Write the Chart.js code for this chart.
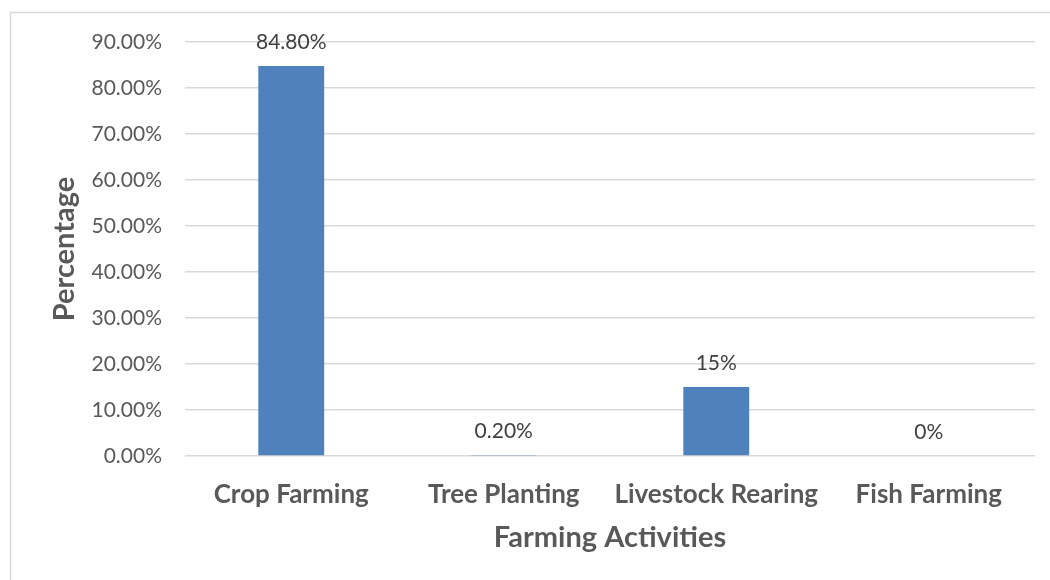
<!DOCTYPE html>
<html>
<head>
<meta charset="utf-8">
<script src="https://cdn.jsdelivr.net/npm/chart.js@4/dist/chart.umd.min.js"></script>
<style>
  html, body { margin: 0; padding: 0; background: #fff; }
  #wrap { width: 1050px; height: 580px; position: relative; }
</style>
</head>
<body>
<div id="wrap"><canvas id="myChart" width="1050" height="580"></canvas></div>
<script>
'use strict';
let activities = ['Crop Farming', 'Tree Planting', 'Livestock Rearing', 'Fish Farming'];
let percentages = [84.8, 0.2, 15, 0];
let valueLabels = ['84.80%', '0.20%', '15%', '0%'];
let yTicks = [0, 10, 20, 30, 40, 50, 60, 70, 80, 90];

let fontFamily = 'Lato, "Open Sans", sans-serif';

// light frame round the whole chart
let framePlugin = {
    id: 'frame',
    beforeDraw(chart) {
        let ctx = chart.ctx;
        ctx.save();
        ctx.strokeStyle = '#d9d9d9';
        ctx.lineWidth = 1.5;
        ctx.strokeRect(10.5, 12.5, 1200, 700);
        ctx.restore();
    }
};

// value text above each bar
let valueLabelPlugin = {
    id: 'valueLabels',
    afterDatasetsDraw(chart) {
        let ctx = chart.ctx;
        let meta = chart.getDatasetMeta(0);
        ctx.save();
        ctx.font = '21px ' + fontFamily;
        ctx.fillStyle = '#404040';
        ctx.textAlign = 'center';
        ctx.textBaseline = 'middle';
        meta.data.forEach(function (bar, i) {
            ctx.fillText(valueLabels[i], bar.x, bar.y - 24);
        });
        ctx.restore();
    }
};

let ctx = document.getElementById('myChart').getContext('2d');
let myChart = new Chart(ctx, {
    type: 'bar',
    data: {
        labels: activities,
        datasets: [{
            data: percentages,
            backgroundColor: '#4f81bd',
            borderWidth: 0,
            categoryPercentage: 1,
            barPercentage: 0.31
        }]
    },
    options: {
        responsive: false,
        animation: false,
        layout: { padding: { left: 20, right: 15, top: 42, bottom: 0 } },
        plugins: {
            legend: { display: false },
            tooltip: { enabled: false }
        },
        scales: {
            x: {
                grid: { display: false },
                border: { display: false },
                ticks: {
                    padding: 15,
                    color: '#595959',
                    font: { family: fontFamily, size: 26, weight: 'bold' }
                },
                title: {
                    display: true,
                    text: 'Farming Activities',
                    color: '#595959',
                    padding: { top: 0, bottom: 25 },
                    font: { family: fontFamily, size: 29, weight: 'bold' }
                },
                afterFit(scale) { scale.height = 124; }
            },
            y: {
                min: 0,
                max: 90,
                afterBuildTicks(scale) {
                    scale.ticks = yTicks.map(v => ({ value: v }));
                },
                grid: { color: '#d9d9d9', lineWidth: 1.5, drawTicks: false },
                border: { display: false },
                ticks: {
                    padding: 23,
                    color: '#595959',
                    font: { family: fontFamily, size: 21 },
                    callback: v => v.toFixed(2) + '%'
                },
                title: {
                    display: true,
                    text: 'Percentage',
                    color: '#595959',
                    padding: { top: 27, bottom: 0 },
                    font: { family: fontFamily, size: 29, weight: 'bold' }
                },
                afterFit(scale) { scale.width = 165; }
            }
        }
    },
    plugins: [framePlugin, valueLabelPlugin]
});
</script>
</body>
</html>
